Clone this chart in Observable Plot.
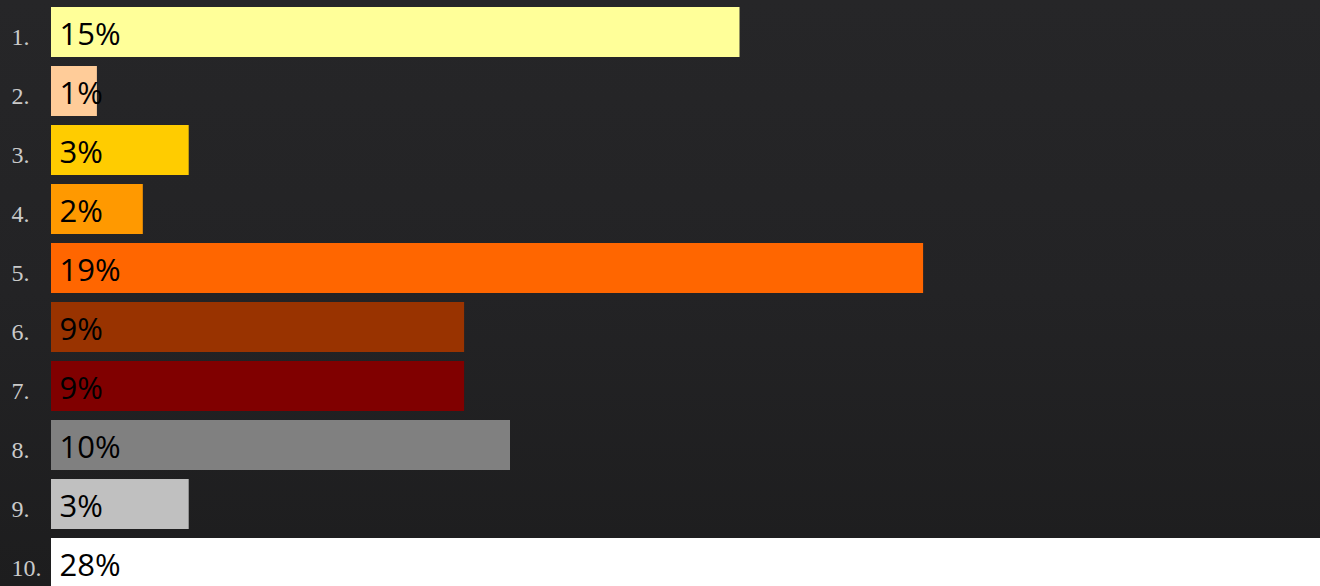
<!DOCTYPE html>
<html>
<head>
<meta charset="utf-8">
<script src="https://cdn.jsdelivr.net/npm/d3@7"></script>
<script src="https://cdn.jsdelivr.net/npm/@observablehq/plot@0.6"></script>
<style>
  html, body { margin: 0; padding: 0; overflow: hidden; }
  body {
    width: 1320px; height: 586px;
    background: linear-gradient(180deg, #262628 0%, #232325 50%, #1d1d1e 100%);
  }
  #chart svg { display: block; overflow: hidden; }
</style>
</head>
<body>
<div id="chart"></div>
<script>
const ranks = ["1.", "2.", "3.", "4.", "5.", "6.", "7.", "8.", "9.", "10."];
const values = [15, 1, 3, 2, 19, 9, 9, 10, 3, 28];
const colors = ["#FFFF99", "#FFCC99", "#FFCC00", "#FF9900", "#FF6600", "#993300", "#800000", "#808080", "#C0C0C0", "#FFFFFF"];

const data = ranks.map((r, i) => ({rank: r, value: values[i], color: colors[i], label: values[i] + "%"}));

const pxPerUnit = 45.9;
const x0 = 51;

const plot = Plot.plot({
  width: 1320,
  height: 586,
  margin: 0,
  style: {background: "transparent"},
  x: {domain: [0, 28], range: [x0, x0 + 28 * pxPerUnit], axis: null},
  y: {domain: ranks, range: [7, 7 + 59.1 * (10 - 0.153)], paddingInner: 0.153, paddingOuter: 0, align: 0, axis: null},
  marks: [
    Plot.barX(data, {x: "value", y: "rank", fill: "color"}),
    Plot.text(data, {
      x: 0, y: "rank", text: "label", textAnchor: "start", dx: 8, dy: 3,
      fill: "#000", fontSize: 31, fontFamily: "'Open Sans', 'Noto Sans', sans-serif"
    }),
    Plot.text(data, {
      frameAnchor: "left", y: "rank", text: "rank", textAnchor: "start", dx: 11, dy: 5,
      fill: "#cacaca", fontSize: 24, fontFamily: "'Liberation Serif', 'DejaVu Serif', serif"
    })
  ]
});
document.getElementById("chart").appendChild(plot);
</script>
</body>
</html>
